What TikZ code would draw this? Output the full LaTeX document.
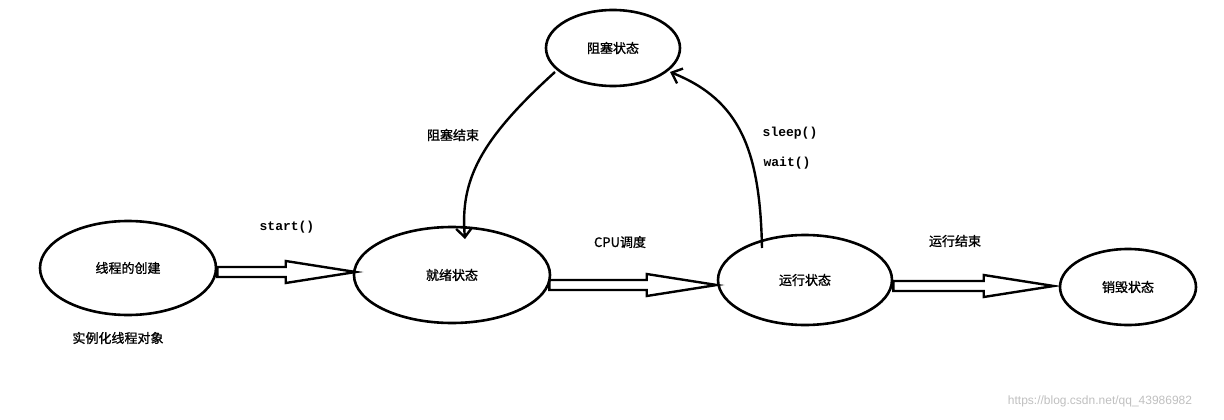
\documentclass[tikz,border=0pt]{standalone}
\usepackage{fontspec}
\setmainfont{Liberation Sans}
\newfontfamily\cjk[FakeBold=1.2]{Noto Sans CJK SC}
\newfontfamily\mono{Liberation Mono}
\usetikzlibrary{arrows.meta,calc,shapes.geometric}
\begin{document}
\begin{tikzpicture}[x=1pt,y=-1pt,
  st/.style={draw,ellipse,line width=2.6pt,font=\cjk\fontsize{13}{15}\selectfont},
  lbl/.style={font=\cjk\fontsize{13}{15}\selectfont},
  ml/.style={font=\mono\bfseries\fontsize{13}{15}\selectfont},
  cur/.style={line width=2.4pt,-{Straight Barb[length=9pt,width=16pt,line width=2.4pt]}},
  hol/.style={line width=2.4pt,line join=miter}]
\useasboundingbox (0,0) rectangle (1224,420);
\node[st,minimum width=176pt,minimum height=94pt] (c) at (128,268) {线程的创建};
\node[st,minimum width=196pt,minimum height=96pt] (r) at (452,275) {就绪状态};
\node[st,minimum width=174pt,minimum height=90pt] (u) at (805,280) {运行状态};
\node[st,minimum width=136pt,minimum height=76pt] (d) at (1128,287) {销毁状态};
\node[st,minimum width=134pt,minimum height=76pt] (b) at (613,48) {阻塞状态};
\newcommand{\hollow}[2]{%
  \draw[hol] let \p1=(#1), \p2=(#2) in
    (\x1,\y1-5) -- (\x2-70,\y1-5) -- (\x2-70,\y1-11) -- (\x2,\y1) -- (\x2-70,\y1+11) -- (\x2-70,\y1+5) -- (\x1,\y1+5) -- cycle;}
\coordinate (a1) at ($(c.east)+(0,4)$);
\coordinate (a2) at ($(r.west)+(3,0)$);
\hollow{a1}{a2}
\coordinate (a3) at ($(r.east)+(-2,10)$);
\coordinate (a4) at ($(u.west)+(0,5)$);
\hollow{a3}{a4}
\coordinate (a5) at ($(u.east)+(0,6)$);
\coordinate (a6) at ($(d.west)+(-5,-2)$);
\hollow{a5}{a6}
\coordinate (s1) at ($(b)+(-58,24)$);
\coordinate (e1) at ($(r)+(13,-36)$);
\coordinate (s2) at ($(u)+(-43,-32)$);
\coordinate (e2) at ($(b)+(57,24)$);
\draw[cur] (s1) .. controls (480,140) and (460,180) .. (e1);
\draw[cur] (s2) .. controls (760,150) and (740,100) .. (e2);
\node[ml] (t1) at (287,227) {start()};
\node[lbl] (t2) at (620,242) {CPU调度};
\node[lbl] (t3) at (955,241) {运行结束};
\node[lbl] (t4) at (453,135) {阻塞结束};
\node[ml] (t5) at (790,133) {sleep()};
\node[ml] (t6) at (787,163) {wait()};
\node[lbl] (t7) at (118,338) {实例化线程对象};
\node[font=\fontsize{12}{14}\selectfont,text=black!25] (w) at (1100,401) {https://blog.csdn.net/qq\_43986982};
\end{tikzpicture}
\end{document}
